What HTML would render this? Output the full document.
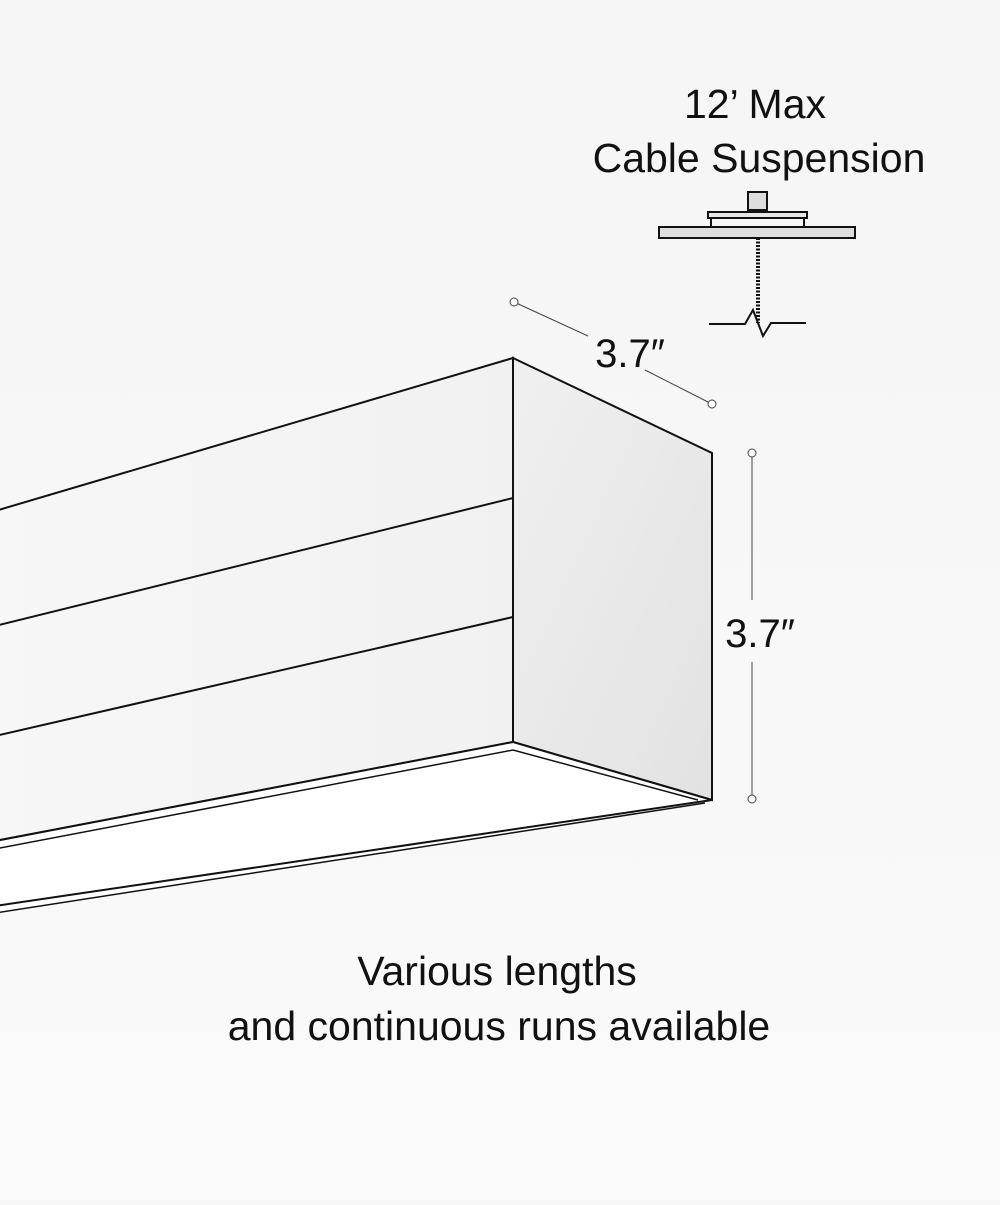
<!DOCTYPE html>
<html><head><style>
body{margin:0;width:1000px;height:1200px;overflow:hidden;background:#f7f7f7;font-family:"Liberation Sans","DejaVu Sans",sans-serif}
</style></head><body>
<svg width="1000" height="1200" viewBox="0 0 1000 1200" xmlns="http://www.w3.org/2000/svg">
<defs>
<linearGradient id="bg" x1="0" y1="0" x2="0" y2="1"><stop offset="0" stop-color="#f5f5f5"/><stop offset="1" stop-color="#fafafa"/></linearGradient>
<linearGradient id="side" x1="0" y1="0" x2="1" y2="1"><stop offset="0" stop-color="#f0f0f0"/><stop offset="1" stop-color="#e2e2e2"/></linearGradient>
<linearGradient id="front" x1="0" y1="0" x2="1" y2="0"><stop offset="0" stop-color="#f7f7f7"/><stop offset="1" stop-color="#f1f1f1"/></linearGradient>
</defs>
<rect width="1000" height="1200" fill="url(#bg)"/>
<g stroke="#111" stroke-width="2" fill="none">
<polygon points="-5,511 513,358 513,742 -5,841" fill="url(#front)"/>
<polygon points="513,358 712,453 712,800 513,742" fill="url(#side)"/>
<polygon points="-5,841 513,742 712,800 -5,913" fill="#fff" stroke="none"/>
<line x1="-5" y1="626" x2="513" y2="498"/>
<line x1="-5" y1="736" x2="513" y2="617"/>
<polyline points="-5,841 513,742 712,800"/>
<polyline points="-5,849 513,750 698,800" stroke-width="1.5"/>
<line x1="-5" y1="906" x2="712" y2="800"/>
<line x1="-5" y1="913" x2="705" y2="803" stroke-width="1.5"/>
</g>
<g stroke="#444" stroke-width="1" fill="#fff">
<line x1="514" y1="302" x2="588" y2="336"/>
<line x1="645" y1="370" x2="712" y2="404"/>
<circle cx="514" cy="302" r="4"/><circle cx="712" cy="404" r="4"/>
<line x1="752" y1="453" x2="752" y2="600"/>
<line x1="752" y1="662" x2="752" y2="799"/>
<circle cx="752" cy="453" r="4"/><circle cx="752" cy="799" r="4"/>
</g>
<g font-size="40" fill="#111" text-anchor="middle">
<text x="630" y="367">3.7″</text>
<text x="760" y="647">3.7″</text>
<text x="755" y="118" font-size="41">12’ Max</text>
<text x="759" y="172" font-size="41">Cable Suspension</text>
<text x="497" y="985" font-size="41">Various lengths</text>
<text x="499" y="1040" font-size="41">and continuous runs available</text>
</g>
<g stroke="#111" stroke-width="2" fill="#ddd">
<rect x="748" y="192" width="19" height="18"/>
<rect x="708" y="212" width="99" height="6" fill="#e6e6e6"/>
<rect x="659" y="227" width="196" height="11"/>
<line x1="711" y1="218" x2="711" y2="227"/><line x1="804" y1="218" x2="804" y2="227"/>
<line x1="758" y1="238" x2="758" y2="323" stroke-width="4" stroke-dasharray="2 1.5"/>
<polyline points="709,324 745,324 753,310 763,336 771,323 806,323" fill="none"/>
</g>
</svg>
</body></html>
